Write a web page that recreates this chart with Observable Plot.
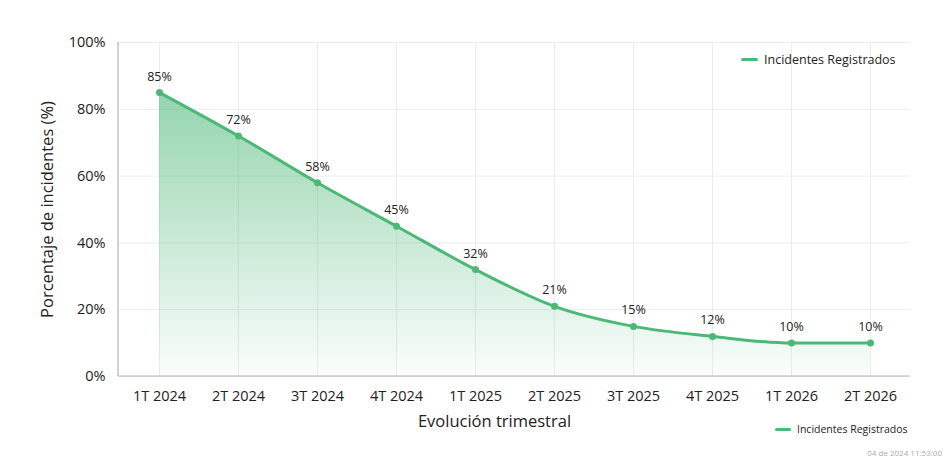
<!DOCTYPE html>
<html>
<head>
<meta charset="utf-8">
<script src="https://cdn.jsdelivr.net/npm/d3@7"></script>
<script src="https://cdn.jsdelivr.net/npm/@observablehq/plot@0.6"></script>
<style>
  body { margin: 0; background: #fff; font-family: "Open Sans", sans-serif; }
  #wrap { position: relative; width: 950px; height: 465px; }
  .leg { position: absolute; display: flex; align-items: center; color: #222; }
  .leg .sw { display: inline-block; height: 3px; border-radius: 2px; background: #4cb877; }
  #stamp { position: absolute; right: 8px; top: 447px; font-size: 8px; color: #aaa; }
</style>
</head>
<body>
<div id="wrap">
  <div id="chart"></div>
  <div class="leg" style="left:741px; top:51px; font-size:12.5px;"><span class="sw" style="width:17px; margin-right:6px;"></span>Incidentes Registrados</div>
  <div class="leg" style="left:775px; top:422px; font-size:10.5px;"><span class="sw" style="width:16px; margin-right:6px;"></span>Incidentes Registrados</div>
  <div id="stamp">04 de 2024 11:53:00</div>
</div>
<script>
const quarters = ["1T 2024","2T 2024","3T 2024","4T 2024","1T 2025","2T 2025","3T 2025","4T 2025","1T 2026","2T 2026"];
const incidents = [85, 72, 58, 45, 32, 21, 15, 12, 10, 10];
const yTicks = [0, 20, 40, 60, 80, 100];
const seriesName = "Incidentes Registrados";
const yLabel = "Porcentaje de incidentes (%)";
const xLabel = "Evolución trimestral";

const data = quarters.map((q, i) => ({quarter: q, value: incidents[i]}));
const green = "#4cb877";
const ns = "http://www.w3.org/2000/svg";

function defs() {
  const g = document.createElementNS(ns, "defs");
  const lg = document.createElementNS(ns, "linearGradient");
  lg.setAttribute("id", "areaGrad");
  lg.setAttribute("gradientUnits", "userSpaceOnUse");
  lg.setAttribute("x1", 0); lg.setAttribute("x2", 0);
  lg.setAttribute("y1", 92); lg.setAttribute("y2", 376);
  [[0, 0.6], [1, 0.02]].forEach(([o, a]) => {
    const s = document.createElementNS(ns, "stop");
    s.setAttribute("offset", o);
    s.setAttribute("stop-color", green);
    s.setAttribute("stop-opacity", a);
    lg.appendChild(s);
  });
  g.appendChild(lg);
  return g;
}

function axisLines(index, scales, values, dims) {
  const g = document.createElementNS(ns, "g");
  const l = dims.marginLeft, b = dims.height - dims.marginBottom, t = dims.marginTop, r = dims.width - dims.marginRight;
  const mk = (x1, y1, x2, y2) => {
    const ln = document.createElementNS(ns, "line");
    ln.setAttribute("x1", x1); ln.setAttribute("y1", y1);
    ln.setAttribute("x2", x2); ln.setAttribute("y2", y2);
    ln.setAttribute("stroke", "#b5b5b5"); ln.setAttribute("stroke-width", 1.2);
    g.appendChild(ln);
  };
  mk(l, t, l, b);
  mk(l, b, r, b);
  return g;
}

const chart = Plot.plot({
  width: 950,
  height: 465,
  marginTop: 42,
  marginLeft: 118,
  marginRight: 40,
  marginBottom: 89,
  style: {fontFamily: "Open Sans, sans-serif", fontSize: "14px", color: "#222", background: "#fff"},
  x: {type: "point", domain: quarters, padding: 0.5, label: null},
  y: {domain: [0, 100], label: null},
  marks: [
    defs,
    Plot.gridY(yTicks, {stroke: "#ececec", strokeOpacity: 1}),
    Plot.gridX(quarters, {stroke: "#ececec", strokeOpacity: 1}),
    Plot.areaY(data, {x: "quarter", y: "value", curve: "monotone-x", fill: "url(#areaGrad)"}),
    Plot.lineY(data, {x: "quarter", y: "value", curve: "monotone-x", stroke: green, strokeWidth: 3}),
    Plot.dot(data, {x: "quarter", y: "value", r: 3.5, fill: green}),
    Plot.text(data, {x: "quarter", y: "value", text: d => d.value + "%", dy: -16, fontSize: 12.5, fill: "#222"}),
    Plot.axisY(yTicks, {tickSize: 0, tickPadding: 13, tickFormat: d => d + "%", fontSize: 14.5, label: null}),
    Plot.axisX({tickSize: 0, tickPadding: 14, fontSize: 14.5, label: null}),
    axisLines,
    Plot.text([yLabel], {frameAnchor: "left", textAnchor: "middle", dx: -71, rotate: -90, fontSize: 16.5, fill: "#222"}),
    Plot.text([xLabel], {frameAnchor: "bottom", dx: -20, dy: 50, fontSize: 16.5, fill: "#222"})
  ]
});
document.getElementById("chart").appendChild(chart);
</script>
</body>
</html>
